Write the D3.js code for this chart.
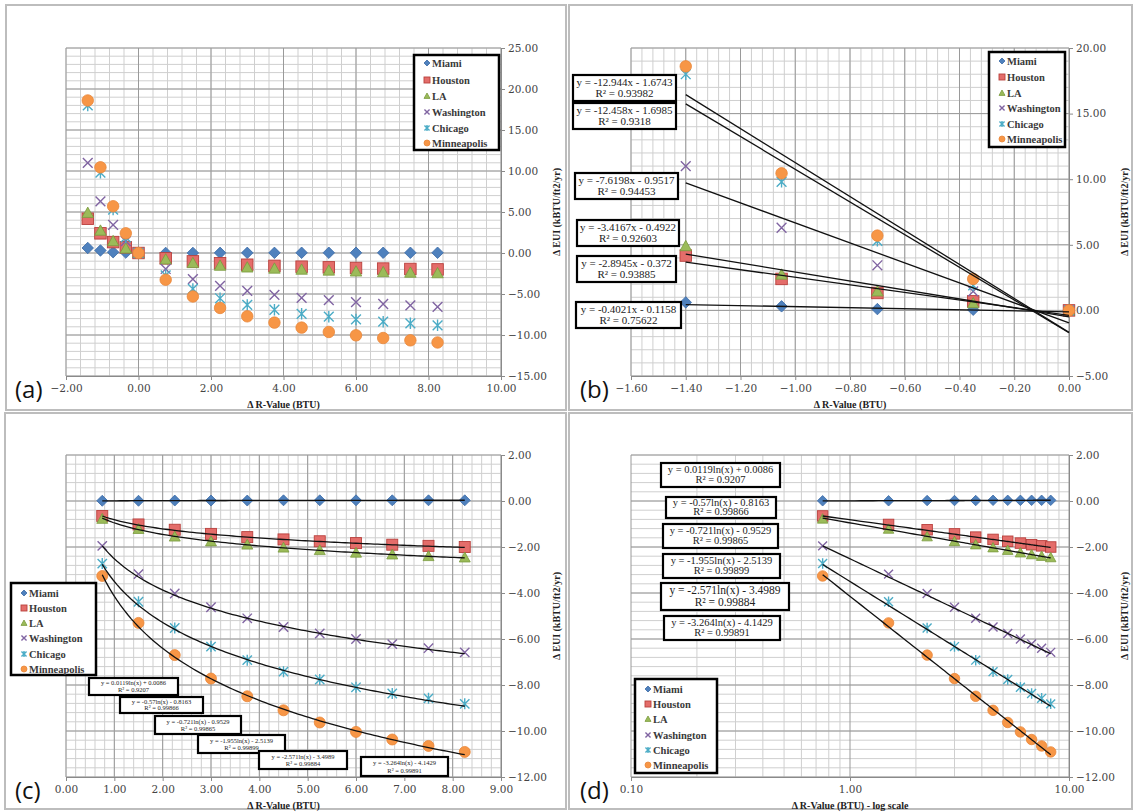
<!DOCTYPE html>
<html><head><meta charset="utf-8">
<script src="https://cdn.jsdelivr.net/npm/d3@7"></script>
<style>
body{margin:0;background:#fff;}
svg{display:block;}
</style></head>
<body>
<svg id="chart" width="1135" height="812"></svg>
<script>
// ---------------- data ----------------
const cities = ["Miami","Houston","LA","Washington","Chicago","Minneapolis"];
const xValues = [-1.4,-1.05,-0.7,-0.35,0,0.75,1.5,2.25,3.0,3.75,4.5,5.25,6.0,6.75,7.5,8.25];
const miami       = [0.61,0.31,0.10,0.05,0, 0.01,0.01,0.02,0.02,0.02,0.03,0.03,0.03,0.03,0.03,0.03];
const houston     = [4.18,2.40,1.33,0.69,0, -0.65,-1.02,-1.25,-1.43,-1.57,-1.67,-1.75,-1.83,-1.90,-1.95,-2.00];
const la          = [4.90,2.73,1.45,0.55,0, -0.78,-1.22,-1.55,-1.76,-1.90,-2.03,-2.14,-2.25,-2.33,-2.40,-2.46];
const washington  = [11.0,6.30,3.44,1.45,0, -1.95,-3.18,-4.02,-4.62,-5.10,-5.48,-5.76,-6.00,-6.22,-6.40,-6.58];
const chicago     = [18.0,9.80,5.30,1.90,0, -2.72,-4.38,-5.52,-6.33,-6.92,-7.42,-7.76,-8.10,-8.37,-8.58,-8.82];
const minneapolis = [18.6,10.45,5.70,2.40,0, -3.26,-5.30,-6.70,-7.72,-8.49,-9.10,-9.63,-10.04,-10.37,-10.65,-10.91];
const seriesValues = [miami,houston,la,washington,chicago,minneapolis];

// linear trendlines (panel b)
const linSlope     = [-0.4021,-2.8945,-3.4167,-7.6198,-12.458,-12.944];
const linIntercept = [-0.1158,-0.372,-0.4922,-0.9517,-1.6985,-1.6743];
const linR2        = ["0.75622","0.93885","0.92603","0.94453","0.9318","0.93982"];
// logarithmic trendlines (panels c, d)
const logA  = [0.0119,-0.57,-0.721,-1.955,-2.571,-3.264];
const logB  = [0.0086,-0.8163,-0.9529,-2.5139,-3.4989,-4.1429];
const logR2 = ["0.9207","0.99866","0.99865","0.99899","0.99884","0.99891"];

// tick labels
const ticksAx = [-2,0,2,4,6,8,10];
const ticksAy = [-15,-10,-5,0,5,10,15,20,25];
const ticksBx = [-1.6,-1.4,-1.2,-1.0,-0.8,-0.6,-0.4,-0.2,0];
const ticksBy = [-5,0,5,10,15,20];
const ticksCx = [0,1,2,3,4,5,6,7,8,9];
const ticksCy = [-12,-10,-8,-6,-4,-2,0,2];
const ticksDx = [0.1,1,10];
const ticksDy = [-12,-10,-8,-6,-4,-2,0,2];
const xTitle = "Δ R-Value (BTU)";
const xTitleLog = "Δ R-Value (BTU) - log scale";
const yTitle = "Δ EUI (kBTU/ft2/yr)";

// ---------------- styling ----------------
const fills   = ["#4f81bd","#e46d6a","#9bbb59","none","none","#f79646"];
const strokes = ["#3a6aa6","#b9403d","#7a9a3e","#8064a2","#4bacc6","#e8873a"];
const shapes  = ["diamond","square","triangle","x","star","circle"];
const TICKFONT = "DejaVu Serif";
const SERIF = "Liberation Serif";

const svg = d3.select("#chart");
svg.append("rect").attr("width",1135).attr("height",812).attr("fill","#fff");

function marker(g, shape, x, y, s, fill, stroke){
  const h = s/2;
  if(shape==="diamond"){
    g.append("path").attr("d",`M${x},${y-h}L${x+h},${y}L${x},${y+h}L${x-h},${y}Z`)
     .attr("fill",fill).attr("stroke",stroke).attr("stroke-width",0.8);
  } else if(shape==="square"){
    g.append("rect").attr("x",x-h).attr("y",y-h).attr("width",s).attr("height",s)
     .attr("fill",fill).attr("stroke",stroke).attr("stroke-width",0.9);
  } else if(shape==="triangle"){
    g.append("path").attr("d",`M${x},${y-h}L${x+h},${y+h*0.8}L${x-h},${y+h*0.8}Z`)
     .attr("fill",fill).attr("stroke",stroke).attr("stroke-width",0.8);
  } else if(shape==="circle"){
    g.append("circle").attr("cx",x).attr("cy",y).attr("r",h)
     .attr("fill",fill).attr("stroke",stroke).attr("stroke-width",0.8);
  } else if(shape==="x"){
    const k=h*0.85;
    g.append("path").attr("d",`M${x-k},${y-k}L${x+k},${y+k}M${x-k},${y+k}L${x+k},${y-k}`)
     .attr("stroke",stroke).attr("stroke-width",1.4).attr("fill","none");
  } else if(shape==="star"){
    const k=h*0.85;
    g.append("path").attr("d",`M${x-k},${y-k}L${x+k},${y+k}M${x-k},${y+k}L${x+k},${y-k}M${x},${y-h}L${x},${y+h}`)
     .attr("stroke",stroke).attr("stroke-width",1.4).attr("fill","none");
  }
}

function frame(x,y,w,h){
  svg.append("rect").attr("x",x).attr("y",y).attr("width",w).attr("height",h)
    .attr("fill","#fff").attr("stroke","#bdbdbd").attr("stroke-width",2);
}
frame(6,5,560,405);
frame(569,5,563,405);
frame(5,413,561,396);
frame(569,413,563,396);

function panel(opt){
  const {x, y, xMinor, yMinor, xTicks, yTicks, xFmt, title, letter, log} = opt;
  const g = svg.append("g");
  const [X0,X1] = x.range(); const [Y1,Y0] = y.range();
  // minor grid
  g.selectAll(".vx").data(xMinor).join("line")
    .attr("x1",d=>x(d)).attr("x2",d=>x(d)).attr("y1",Y0).attr("y2",Y1)
    .attr("stroke","#cfcfcf").attr("stroke-width",1);
  g.selectAll(".hy").data(yMinor).join("line")
    .attr("y1",d=>y(d)).attr("y2",d=>y(d)).attr("x1",X0).attr("x2",X1)
    .attr("stroke","#cfcfcf").attr("stroke-width",1);
  // major grid
  g.selectAll(".mx").data(xTicks).join("line")
    .attr("x1",d=>x(d)).attr("x2",d=>x(d)).attr("y1",Y0).attr("y2",Y1)
    .attr("stroke","#9a9a9a").attr("stroke-width",1);
  g.selectAll(".my").data(yTicks).join("line")
    .attr("y1",d=>y(d)).attr("y2",d=>y(d)).attr("x1",X0).attr("x2",X1)
    .attr("stroke","#9a9a9a").attr("stroke-width",1);
  // axes: right y, bottom x
  const ya = d3.axisRight(y).tickValues(yTicks).tickSize(4).tickPadding(3).tickFormat(d3.format(".2f"));
  const ga = g.append("g").attr("transform",`translate(${X1},0)`).call(ya);
  ga.select(".domain").attr("stroke","#8a8a8a");
  ga.selectAll(".tick line").attr("stroke","#8a8a8a");
  ga.selectAll("text").attr("font-family",TICKFONT).attr("font-size",10.5).attr("fill","#444");
  const xa = (log? d3.axisBottom(x).tickValues(xTicks): d3.axisBottom(x).tickValues(xTicks))
      .tickSize(4).tickPadding(5).tickFormat(xFmt);
  const gx = g.append("g").attr("transform",`translate(0,${Y1})`).call(xa);
  gx.select(".domain").attr("stroke","#8a8a8a");
  gx.selectAll(".tick line").attr("stroke","#8a8a8a");
  gx.selectAll("text").attr("font-family",TICKFONT).attr("font-size",10.5).attr("fill","#444");
  // titles
  g.append("text").attr("x",(X0+X1)/2).attr("y",Y1+32).attr("text-anchor","middle")
    .attr("font-family",SERIF).attr("font-weight","bold").attr("font-size",10).attr("fill","#222").text(title);
  g.append("text").attr("transform",`translate(${X1+59},${(Y0+Y1)/2}) rotate(-90)`)
    .attr("text-anchor","middle").attr("font-family",SERIF).attr("font-weight","bold")
    .attr("font-size",10).attr("fill","#222").text(yTitle);
  g.append("text").attr("x",X0-51).attr("y",Y1+22).attr("font-family","Open Sans")
    .attr("font-size",24).attr("fill","#111").text(letter);
  return g;
}

function legend(bx,by,bw,bh,items){
  const g = svg.append("g");
  g.append("rect").attr("x",bx).attr("y",by).attr("width",bw).attr("height",bh)
    .attr("fill","#fff").attr("stroke","#000").attr("stroke-width",2.5);
  cities.forEach((c,i)=>{
    const yy = items[i];
    marker(g, shapes[i], bx+13, yy, 6, fills[i], strokes[i]);
    g.append("text").attr("x",bx+18).attr("y",yy).attr("dy","0.35em")
      .attr("font-family",SERIF).attr("font-weight","bold").attr("font-size",10.5)
      .attr("fill","#3a3a3a").text(c);
  });
}

function labelBox(bx,by,bw,bh,l1,l2,fs){
  const g = svg.append("g");
  g.append("rect").attr("x",bx).attr("y",by).attr("width",bw).attr("height",bh)
    .attr("fill","#fff").attr("stroke","#000").attr("stroke-width",2.2);
  g.append("text").attr("x",bx+bw/2).attr("y",by+bh*0.42).attr("text-anchor","middle")
    .attr("font-family",SERIF).attr("font-size",fs).attr("fill","#222").text(l1);
  g.append("text").attr("x",bx+bw/2).attr("y",by+bh*0.84).attr("text-anchor","middle")
    .attr("font-family",SERIF).attr("font-size",fs).attr("fill","#222").text(l2);
}

const f2 = d3.format(".2f");
const fmtLin = (m,b)=>`y = ${m}x ${b<0?"-":"+"} ${Math.abs(b)}`;
const fmtLog = (a,b)=>`y = ${a}ln(x) ${b<0?"-":"+"} ${Math.abs(b)}`;

// ---------------- panel (a) ----------------
const xa = d3.scaleLinear([-2,10],[66,501]);
const ya = d3.scaleLinear([-15,25],[376,48]);
const ga = panel({x:xa,y:ya,xMinor:d3.range(-2,10.001,0.4),yMinor:d3.range(-15,25.001,1),
  xTicks:ticksAx,yTicks:ticksAy,xFmt:f2,title:xTitle,letter:"(a)"});
seriesValues.forEach((vals,i)=>{
  vals.forEach((v,j)=>marker(ga,shapes[i],xa(xValues[j]),ya(v),11.5,fills[i],strokes[i]));
});
legend(414,55,85,95,[63,80,96,112,128,143]);

// ---------------- panel (b) ----------------
const xb = d3.scaleLinear([-1.6,0],[631,1069]);
const yb = d3.scaleLinear([-5,20],[376,48]);
const gb = panel({x:xb,y:yb,xMinor:d3.range(-1.6,0.0001,0.04),yMinor:d3.range(-5,20.001,1),
  xTicks:ticksBx,yTicks:ticksBy,xFmt:f2,title:xTitle,letter:"(b)"});
const negIdx = d3.range(0,5);
seriesValues.forEach((vals,i)=>{
  negIdx.forEach(j=>marker(gb,shapes[i],xb(xValues[j]),yb(vals[j]),11.5,fills[i],strokes[i]));
});
const lineB = d3.line().x(d=>xb(d[0])).y(d=>yb(d[1]));
cities.forEach((c,i)=>{
  const xs=[xValues[0],xValues[4]];
  gb.append("path").attr("d",lineB(xs.map(xx=>[xx,linSlope[i]*xx+linIntercept[i]])))
    .attr("stroke","#111").attr("stroke-width",1.3).attr("fill","none");
});
legend(989,52,76,95,[61,77,93,108,124,139]);
const bBoxes = [[576,302,105,26],[577,256,99,26],[577,220,102,26],[575,173,103,26],[573,103,103,26],[573,75,103,26]];
cities.forEach((c,i)=>{
  const b=bBoxes[i];
  labelBox(b[0],b[1],b[2],b[3],fmtLin(linSlope[i],linIntercept[i]),`R² = ${linR2[i]}`,11);
});

// ---------------- panel (c) ----------------
const posIdx = d3.range(5,16);
const xc = d3.scaleLinear([0,9],[66,501]);
const yc = d3.scaleLinear([-12,2],[777,455]);
const gc = panel({x:xc,y:yc,xMinor:d3.range(0,9.001,0.2),yMinor:d3.range(-12,2.001,0.4),
  xTicks:ticksCx,yTicks:ticksCy,xFmt:f2,title:xTitle,letter:"(c)"});
seriesValues.forEach((vals,i)=>{
  posIdx.forEach(j=>marker(gc,shapes[i],xc(xValues[j]),yc(vals[j]),11,fills[i],strokes[i]));
});
const curveXs = d3.range(0,101).map(k=>xValues[5]+(xValues[15]-xValues[5])*k/100);
const lineC = d3.line().x(d=>xc(d[0])).y(d=>yc(d[1]));
cities.forEach((c,i)=>{
  gc.append("path").attr("d",lineC(curveXs.map(xx=>[xx,logA[i]*Math.log(xx)+logB[i]])))
    .attr("stroke","#111").attr("stroke-width",1.3).attr("fill","none");
});
legend(11,583,85,92,[593,608,623,638,654,669]);
const cBoxes = [[89,678,89,17],[120,697,83,16],[155,716,86,18],[198,735,87,18],[259,751,88,18],[361,757,87,19]];
cities.forEach((c,i)=>{
  const b=cBoxes[i];
  labelBox(b[0],b[1],b[2],b[3],fmtLog(logA[i],logB[i]),`R² = ${logR2[i]}`,6.5);
});

// ---------------- panel (d) ----------------
const xd = d3.scaleLog([0.1,10],[631,1069]);
const yd = d3.scaleLinear([-12,2],[777,455]);
const dMinor = [0.2,0.3,0.4,0.5,0.6,0.7,0.8,0.9,2,3,4,5,6,7,8,9];
const gd = panel({x:xd,y:yd,xMinor:dMinor,yMinor:d3.range(-12,2.001,0.4),
  xTicks:ticksDx,yTicks:ticksDy,xFmt:f2,title:xTitleLog,letter:"(d)",log:true});
seriesValues.forEach((vals,i)=>{
  posIdx.forEach(j=>marker(gd,shapes[i],xd(xValues[j]),yd(vals[j]),10.5,fills[i],strokes[i]));
});
const lineD = d3.line().x(d=>xd(d[0])).y(d=>yd(d[1]));
cities.forEach((c,i)=>{
  gd.append("path").attr("d",lineD(curveXs.map(xx=>[xx,logA[i]*Math.log(xx)+logB[i]])))
    .attr("stroke","#111").attr("stroke-width",1.3).attr("fill","none");
});
legend(635,679,82,94,[689,704,719,735,750,765]);
const dBoxes = [[661,463,119,24],[666,497,110,21],[663,524,115,24],[663,554,117,24],[661,583,128,27],[664,616,116,24]];
cities.forEach((c,i)=>{
  const b=dBoxes[i];
  labelBox(b[0],b[1],b[2],b[3],fmtLog(logA[i],logB[i]),`R² = ${logR2[i]}`, i===4?11.5:10.5);
});
</script>
</body></html>
